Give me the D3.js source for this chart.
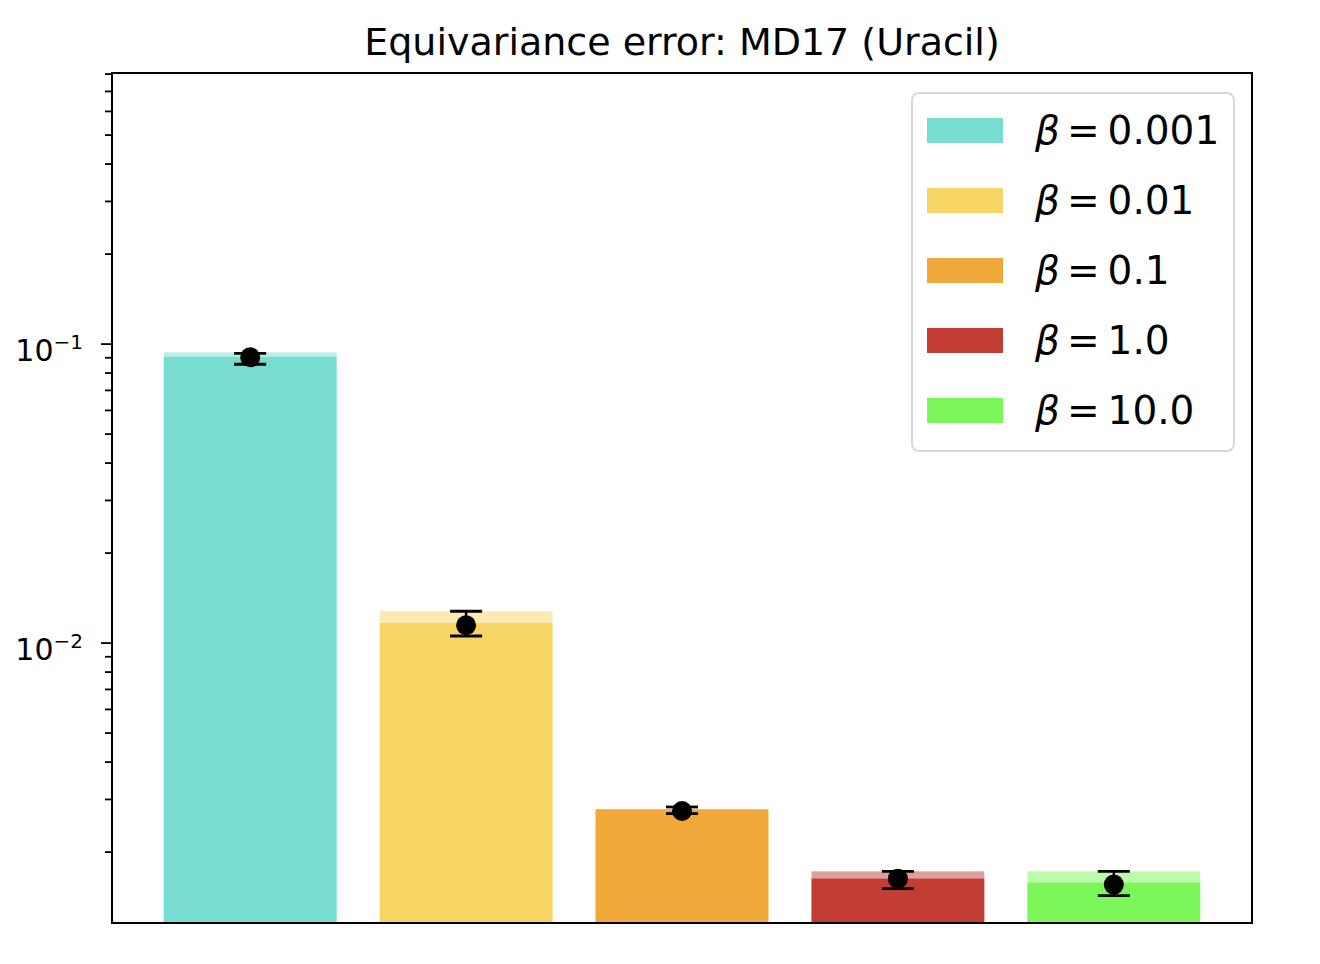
<!DOCTYPE html>
<html>
<head>
<meta charset="utf-8">
<script src="https://cdn.jsdelivr.net/npm/d3@7"></script>
<style>
  body { margin: 0; background: #fff; }
  text { font-family: "DejaVu Sans", sans-serif; fill: #000; }
</style>
</head>
<body>
<div id="chart_svg"></div>
<script>
// values
const betas = ["0.001", "0.01", "0.1", "1.0", "10.0"]
const colors = ["#76ddd0", "#f7d564", "#f0a83a", "#c23e35", "#7cf75a"]
const upperVals = [0.0935, 0.01273, 0.00277, 0.001718, 0.001718]   // light bar
const meanVals = [0.0903, 0.01163, 0.00277, 0.001624, 0.001575]    // solid bar
const pointVals = [0.0900, 0.01143, 0.002734, 0.001624, 0.001551]  // black dot
const errLow = [0.0853, 0.01052, 0.00268, 0.001504, 0.001425]
const errHigh = [0.0928, 0.01273, 0.00282, 0.001718, 0.001718]
const yDomain = [0.001154, 0.8035]
const majorTicks = [0.01, 0.1]
const majorLabels = ["2", "1"]   // exponent shown as 10^-n

const totalWidth = 1320
const totalHeight = 964
var margin = {top: 73, right: 68, bottom: 41, left: 112},
    width = totalWidth - margin.left - margin.right,
    height = totalHeight - margin.top - margin.bottom;

var svg = d3.select("#chart_svg")
  .append("svg")
  .attr("width", totalWidth)
  .attr("height", totalHeight)

var g = svg.append("g")
  .attr("transform", "translate(" + margin.left + "," + margin.top + ")");

var x = d3.scaleBand()
  .domain(betas)
  .range([0, width])
  .paddingInner(0.2)
  .paddingOuter(0.24);

var y = d3.scaleLog()
  .domain(yDomain)
  .range([height, 0]);

// bars: light (upper) then solid (mean)
g.selectAll(".upper").data(betas).enter().append("rect")
  .attr("x", d => x(d))
  .attr("width", x.bandwidth())
  .attr("y", (d, i) => y(upperVals[i]))
  .attr("height", (d, i) => height - y(upperVals[i]))
  .attr("fill", (d, i) => colors[i])
  .attr("fill-opacity", 0.5);

g.selectAll(".mean").data(betas).enter().append("rect")
  .attr("x", d => x(d))
  .attr("width", x.bandwidth())
  .attr("y", (d, i) => y(meanVals[i]))
  .attr("height", (d, i) => height - y(meanVals[i]))
  .attr("fill", (d, i) => colors[i]);

// error bars
var eb = g.selectAll(".eb").data(betas).enter().append("g")
  .attr("transform", d => "translate(" + (x(d) + x.bandwidth() / 2) + ",0)");
eb.append("line")
  .attr("y1", (d, i) => y(errLow[i])).attr("y2", (d, i) => y(errHigh[i]))
  .attr("stroke", "#000").attr("stroke-width", 2.5);
eb.append("line")
  .attr("x1", -16).attr("x2", 16)
  .attr("y1", (d, i) => y(errLow[i])).attr("y2", (d, i) => y(errLow[i]))
  .attr("stroke", "#000").attr("stroke-width", 2.8);
eb.append("line")
  .attr("x1", -16).attr("x2", 16)
  .attr("y1", (d, i) => y(errHigh[i])).attr("y2", (d, i) => y(errHigh[i]))
  .attr("stroke", "#000").attr("stroke-width", 2.8);
eb.append("circle")
  .attr("cy", (d, i) => y(pointVals[i]))
  .attr("r", 10)
  .attr("fill", "#000");

// y axis: minor ticks then major ticks with labels
var minor = y.ticks().filter(t => majorTicks.indexOf(t) < 0)
g.append("g")
  .call(d3.axisLeft(y).tickValues(minor).tickSize(7).tickFormat(""))
  .call(a => a.select(".domain").remove())
  .selectAll("line").attr("stroke-width", 1.8);

var ax = g.append("g")
  .call(d3.axisLeft(y).tickValues(majorTicks).tickSize(11).tickFormat(""));
ax.select(".domain").remove();
ax.selectAll("line").attr("stroke-width", 1.8);
ax.selectAll(".tick").each(function(d, i) {
  var t = d3.select(this).append("text")
    .attr("x", -29).attr("y", 17)
    .attr("text-anchor", "end").style("font-size", "30px").attr("fill", "#000");
  t.append("tspan").text("10");
  t.append("tspan").attr("dy", -12).style("font-size", "20px").text("\u2212" + majorLabels[i]);
});

// frame
g.append("rect")
  .attr("width", width).attr("height", height)
  .attr("fill", "none").attr("stroke", "#000").attr("stroke-width", 2);

// title
svg.append("text")
  .attr("x", margin.left + width / 2).attr("y", 55)
  .attr("text-anchor", "middle")
  .style("font-size", "38px")
  .text("Equivariance error: MD17 (Uracil)");

// legend
var legend = svg.append("g").attr("transform", "translate(912,93)");
legend.append("rect")
  .attr("width", 322).attr("height", 358).attr("rx", 7)
  .attr("fill", "#fff").attr("fill-opacity", 0.8)
  .attr("stroke", "#d8d8d8").attr("stroke-width", 2);
var rows = legend.selectAll(".row").data(betas).enter().append("g")
  .attr("transform", (d, i) => "translate(0," + (37 + i * 70) + ")");
rows.append("rect")
  .attr("x", 15).attr("y", -12).attr("width", 76).attr("height", 25)
  .attr("fill", (d, i) => colors[i]);
var lt = rows.append("text")
  .attr("x", 123).attr("y", 14)
  .style("font-size", "39px");
lt.append("tspan").style("font-style", "italic").text("\u03b2");
lt.append("tspan").attr("dx", 7).text("=");
lt.append("tspan").attr("dx", 8).text(d => d);
</script>
</body>
</html>
